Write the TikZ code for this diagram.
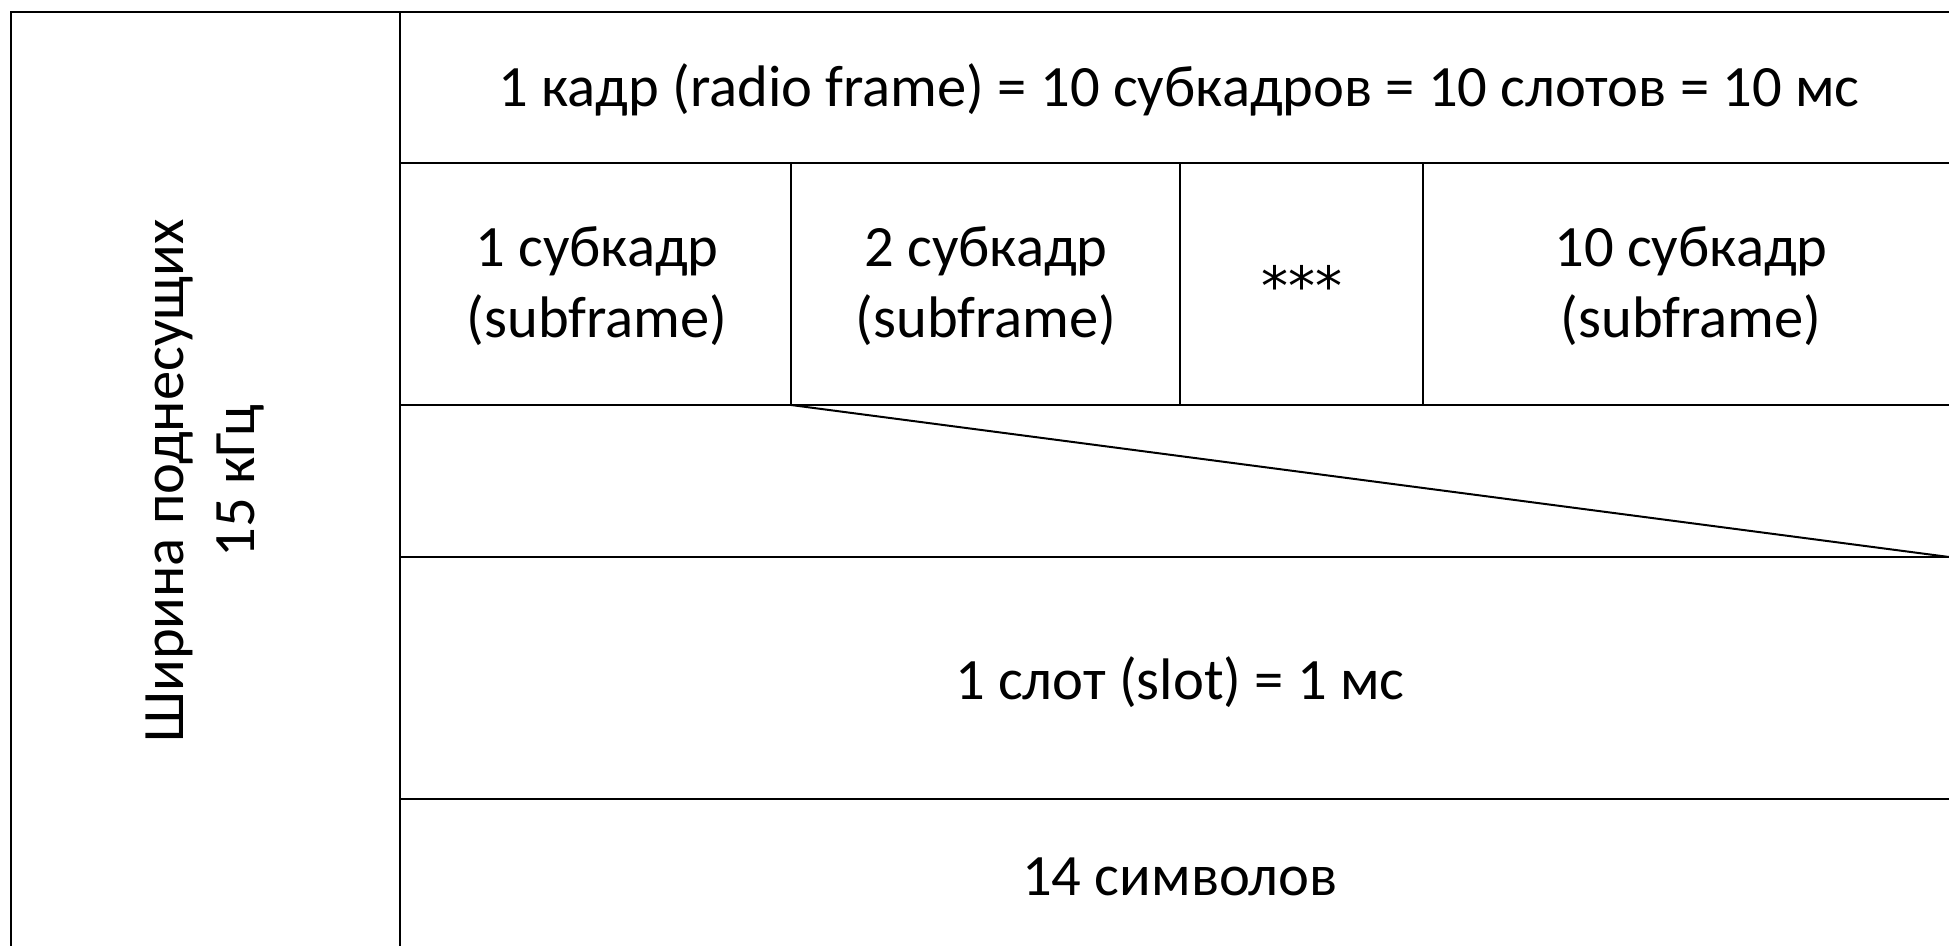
\documentclass[tikz,border=0pt]{standalone}
\usepackage{fontspec}
\setmainfont{Carlito}
\newfontfamily\symfont{DejaVu Sans}
\begin{document}
\begin{tikzpicture}[x=0.5pt,y=-0.5pt,
  outer/.style={line width=1.35pt,line cap=rect},
  inner/.style={line width=1pt},
  lbl/.style={font=\fontsize{29.3}{35.6}\selectfont,align=center,inner sep=0pt}]
\useasboundingbox (0,0) rectangle (1949,946);
% outer frame (cropped at right and bottom)
\draw[outer] (11,946) -- (11,12) -- (1949,12);
\draw[inner] (400,12) -- (400,946);
% horizontal rows
\draw[inner] (400,163) -- (1949,163);
\draw[inner] (400,405) -- (1949,405);
\draw[inner] (400,557) -- (1949,557);
\draw[inner] (400,799) -- (1949,799);
% subframe dividers
\draw[inner] (791,163) -- (791,405);
\draw[inner] (1180,163) -- (1180,405);
\draw[inner] (1423,163) -- (1423,405);
% zoom line
\coordinate (zA) at (791,405);
\coordinate (zB) at (1949,557);
\draw[inner] (zA) -- (zB);
% texts
\node[lbl] (frame) at (1179,90) {1 кадр (radio frame) = 10 субкадров = 10 слотов = 10 мс};
\node[lbl] (sf1) at (597,286) {1 субкадр\\(subframe)};
\node[lbl] (sf2) at (986,286) {2 субкадр\\(subframe)};
\node[lbl,anchor=base,font=\symfont\fontsize{27}{32}\selectfont] (dots) at (1302,306) {***};
\node[lbl] (sf10) at (1691,286) {10 субкадр\\(subframe)};
\node[lbl] (slot) at (1180,682) {1 слот (slot) = 1 мс};
\node[lbl] (sym) at (1180,877) {14 символов};
\node[lbl,rotate=90] (bw) at (205,481) {Ширина поднесущих\\15 кГц};
\end{tikzpicture}
\end{document}
